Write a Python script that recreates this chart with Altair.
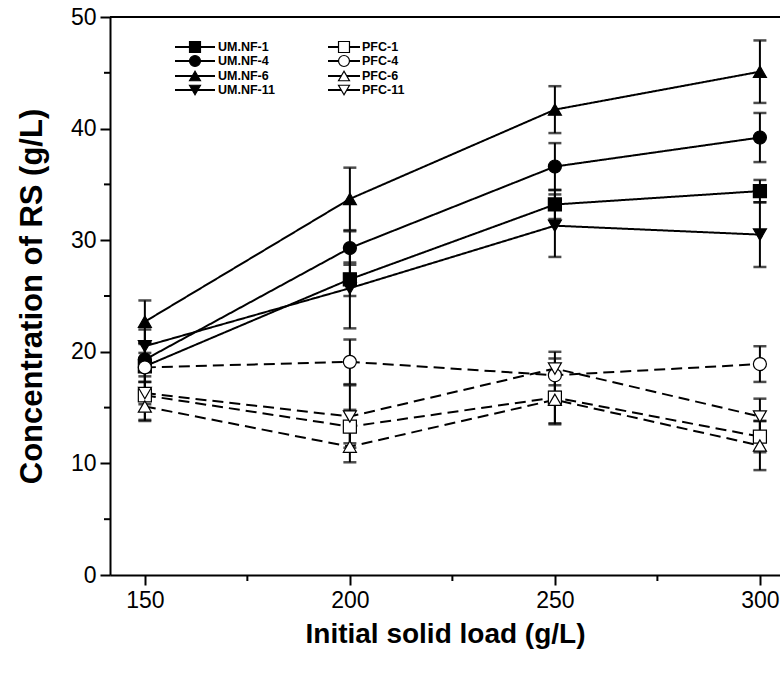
import altair as alt
import pandas as pd

# Initial solid load (g/L)
loads = [150, 200, 250, 300]

series = ["UM.NF-1", "UM.NF-4", "UM.NF-6", "UM.NF-11",
          "PFC-1", "PFC-4", "PFC-6", "PFC-11"]

# Concentration of reducing sugars (g/L)
um_nf_1 = [18.7, 26.5, 33.2, 34.4]
um_nf_4 = [19.3, 29.3, 36.6, 39.2]
um_nf_6 = [22.7, 33.7, 41.7, 45.1]
um_nf_11 = [20.5, 25.7, 31.3, 30.5]
pfc_1 = [16.1, 13.3, 15.9, 12.4]
pfc_4 = [18.6, 19.1, 17.9, 18.9]
pfc_6 = [15.1, 11.5, 15.7, 11.6]
pfc_11 = [16.3, 14.2, 18.5, 14.2]

# Standard deviations
err_um_nf_1 = [2.0, 1.5, 1.3, 1.0]
err_um_nf_4 = [1.5, 1.5, 2.1, 2.2]
err_um_nf_6 = [1.9, 2.8, 2.1, 2.8]
err_um_nf_11 = [1.5, 3.6, 2.8, 2.9]
err_pfc_1 = [2.3, 1.5, 2.3, 1.4]
err_pfc_4 = [1.3, 2.0, 1.5, 1.6]
err_pfc_6 = [1.2, 1.4, 2.2, 2.2]
err_pfc_11 = [1.0, 2.8, 1.5, 1.6]

values = [um_nf_1, um_nf_4, um_nf_6, um_nf_11, pfc_1, pfc_4, pfc_6, pfc_11]
errors = [err_um_nf_1, err_um_nf_4, err_um_nf_6, err_um_nf_11,
          err_pfc_1, err_pfc_4, err_pfc_6, err_pfc_11]

y_ticks = [0, 10, 20, 30, 40, 50]
y_minor = [5, 15, 25, 35, 45]
x_minor = [175, 225, 275]

shapes = ["square", "circle", "triangle-up", "triangle-down"] * 2
fills = ["black"] * 4 + ["white"] * 4
dashes = [[1, 0]] * 4 + [[11, 6]] * 4

rows = []
for name, vals, errs in zip(series, values, errors):
    for x, v, e in zip(loads, vals, errs):
        rows.append({"series": name, "load": x, "rs": v,
                     "lo": v - e, "hi": v + e})
df = pd.DataFrame(rows)

W, H = 670, 558
FONT = "Liberation Sans"
X_DOM = [141.5, 304.9]
Y_DOM = [0, 50]

x_scale = alt.Scale(domain=X_DOM, nice=False, zero=False)
y_scale = alt.Scale(domain=Y_DOM, nice=False)

shape_enc = alt.Shape("series:N", scale=alt.Scale(domain=series, range=shapes), legend=None)
fill_enc = alt.Fill("series:N", scale=alt.Scale(domain=series, range=fills), legend=None)
dash_enc = alt.StrokeDash("series:N", scale=alt.Scale(domain=series, range=dashes), legend=None)

x_axis = alt.Axis(values=loads, title="Initial solid load (g/L)", format="d",
                  titleFontSize=28, titlePadding=8)
y_axis = alt.Axis(values=y_ticks, title="Concentration of RS (g/L)",
                  titleFontSize=31, titlePadding=22)


def X(field):
    return alt.X(field, type="quantitative", scale=x_scale, axis=x_axis)


def Y(field):
    return alt.Y(field, type="quantitative", scale=y_scale, axis=y_axis)


base = alt.Chart(df)

lines = base.mark_line(color="black", strokeWidth=2).encode(
    x=X("load"), y=Y("rs"),
    detail="series:N",
    strokeDash=dash_enc,
)

bars = base.mark_rule(color="black", strokeWidth=2).encode(
    x=X("load"), y=Y("lo"), y2="hi:Q",
)

caps_lo = base.mark_tick(orient="horizontal", color="black", size=13, thickness=2.5).encode(
    x=X("load"), y=Y("lo"),
)
caps_hi = base.mark_tick(orient="horizontal", color="black", size=13, thickness=2.5).encode(
    x=X("load"), y=Y("hi"),
)

points = base.mark_point(stroke="black", strokeWidth=1.2, size=170, opacity=1).encode(
    x=X("load"), y=Y("rs"),
    shape=shape_enc,
    fill=fill_enc,
)

# Minor ticks on both axes
ymin_df = pd.DataFrame({"v": y_minor})
xmin_df = pd.DataFrame({"v": x_minor})
y_minor_ticks = alt.Chart(ymin_df).mark_rule(color="black", strokeWidth=2).encode(
    y=Y("v"),
    x=alt.value(-6), x2=alt.value(0),
)
x_minor_ticks = alt.Chart(xmin_df).mark_rule(color="black", strokeWidth=2).encode(
    x=X("v"),
    y=alt.value(H), y2=alt.value(H + 6),
)

# Top frame line
top_line = alt.Chart(pd.DataFrame({"k": [0]})).mark_rule(color="black", strokeWidth=2).encode(
    x=alt.value(0), x2=alt.value(W), y=alt.value(0),
)


# Legend laid out in pixels, mapped onto the shared data scales
def px_to_x(px):
    return X_DOM[0] + px / W * (X_DOM[1] - X_DOM[0])


def py_to_y(py):
    return Y_DOM[1] - py / H * (Y_DOM[1] - Y_DOM[0])


row_y = [30, 44, 59, 73]
col_line = [(65, 105), (218, 250)]
col_text = [108, 252]
leg_rows = []
for i, name in enumerate(series):
    c, r = divmod(i, 4)
    x0, x1 = col_line[c]
    leg_rows.append({"series": name,
                     "x0": px_to_x(x0), "x1": px_to_x(x1),
                     "mx": px_to_x((x0 + x1) / 2),
                     "tx": px_to_x(col_text[c]),
                     "ly": py_to_y(row_y[r])})
leg = pd.DataFrame(leg_rows)
leg_base = alt.Chart(leg)
leg_lines = leg_base.mark_rule(color="black", strokeWidth=2).encode(
    x=X("x0"), x2="x1:Q", y=Y("ly"),
)
leg_marks = leg_base.mark_point(stroke="black", strokeWidth=1.2, size=120, opacity=1).encode(
    x=X("mx"), y=Y("ly"),
    shape=shape_enc,
    fill=fill_enc,
)
leg_text = leg_base.mark_text(align="left", baseline="middle", font=FONT,
                              fontSize=12.5, fontWeight="bold", color="black").encode(
    x=X("tx"), y=Y("ly"),
    text="series:N",
)

chart = alt.layer(
    lines, bars, caps_lo, caps_hi, points,
    y_minor_ticks, x_minor_ticks, top_line,
    leg_lines, leg_marks, leg_text,
).properties(
    width=W, height=H,
    padding={"left": 110, "top": 17, "right": 0, "bottom": 100},
    autosize=alt.AutoSizeParams(type="none"),
    background="white",
).configure_view(
    stroke=None,
).configure_axis(
    grid=False,
    domainColor="black", domainWidth=2,
    tickColor="black", tickWidth=2, tickSize=10,
    labelFont=FONT, labelFontSize=23, labelColor="black", labelPadding=4,
    titleFont=FONT, titleFontWeight="bold", titleColor="black",
)

chart.save("out.html", embed_options={"renderer": "svg", "actions": False})
